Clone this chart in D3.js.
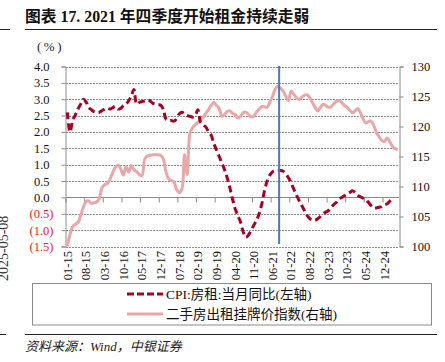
<!DOCTYPE html>
<html>
<head>
<meta charset="utf-8">
<script src="https://cdn.jsdelivr.net/npm/d3@7"></script>
<style>
body { margin: 0; background: #fff; }
svg { display: block; }
</style>
</head>
<body>
<svg id="chart" width="445" height="362"></svg>
<script>
// monthly categories 2015-01 .. 2025-05
var months = d3.timeMonth.range(new Date(2015, 0, 1), new Date(2025, 5, 1)).map(d3.timeFormat("%m-%y"))

// CPI: 房租: 当月同比 (left axis, %), 2015-01 .. 2025-03
var cpiRent = [
	2.6, 2.0, 2.35, 2.52, 2.7, 2.85, 3.0, 2.92, 2.75, 2.68, 2.62, 2.6,
	2.6, 2.65, 2.7, 2.73, 2.7, 2.74, 2.78, 2.7, 2.72, 2.8, 2.85, 2.95,
	3.1, 3.3, 2.85, 2.9, 2.93, 2.95, 2.98, 2.95, 2.88, 2.85, 2.83, 2.82,
	2.7, 2.4, 2.35, 2.35, 2.33, 2.4, 2.55, 2.6, 2.55, 2.5, 2.48, 2.45,
	2.5, 2.68, 2.3, 2.22, 2.15, 2.0, 1.9, 1.65, 1.45, 1.25, 1.05, 0.85,
	0.6, 0.3, -0.05, -0.35, -0.55, -0.75, -1.05, -1.22, -1.15, -1.0, -0.85, -0.7,
	-0.5, -0.2, 0.2, 0.5, 0.68, 0.78, 0.82, 0.82, 0.82, 0.8, 0.72, 0.6,
	0.45, 0.25, 0.08, -0.1, -0.25, -0.4, -0.55, -0.65, -0.7, -0.7, -0.65, -0.58,
	-0.5, -0.45, -0.4, -0.3, -0.22, -0.15, -0.05, 0.0, 0.05, 0.1, 0.15, 0.2,
	0.15, 0.06, 0.02, -0.02, -0.06, -0.15, -0.25, -0.32, -0.32, -0.3, -0.28, -0.22,
	-0.2, -0.12, -0.05
]

// 二手房出租挂牌价指数 (right axis), 2015-01 .. 2025-05
var rentIndex = [
	100.0, 102.0, 103.3, 103.7, 104.0, 105.2, 106.5, 107.5, 107.6, 107.2, 107.3, 107.4,
	108.0, 109.8, 110.3, 110.5, 111.2, 112.3, 113.2, 113.6, 113.0, 111.9, 113.3, 112.4,
	113.5, 112.8, 112.5, 112.0, 111.8, 114.5, 115.1, 115.2, 115.3, 115.3, 115.3, 115.2,
	114.6, 112.5, 111.3, 111.0, 110.8, 109.5, 109.0, 109.6, 115.3, 112.0, 118.8, 119.8,
	120.3, 120.7, 121.1, 121.5, 122.2, 122.8, 123.5, 124.0, 123.5, 123.0, 121.7, 122.0,
	122.5, 122.6, 122.2, 122.0, 121.4, 121.7, 122.3, 122.4, 122.0, 121.6, 121.7, 122.4,
	122.9, 123.3, 123.3, 123.2, 124.0, 125.0, 126.2, 126.7, 126.4, 125.9, 125.0, 124.3,
	125.9, 125.4, 124.8, 124.5, 124.9, 125.2, 125.3, 124.8, 124.0, 123.2, 122.6, 123.2,
	123.7, 123.5, 123.2, 123.3, 123.8, 124.2, 124.3, 124.0, 123.5, 123.2, 122.7, 122.3,
	122.6, 123.0, 122.3, 121.3, 120.6, 120.8, 120.9, 120.2, 119.0, 118.3, 117.7, 117.5,
	118.1, 117.5, 116.7, 116.3, 116.2
]

var leftTicks = [-1.5, -1.0, -0.5, 0.0, 0.5, 1.0, 1.5, 2.0, 2.5, 3.0, 3.5, 4.0]
var rightTicks = [100, 105, 110, 115, 120, 125, 130]
var labelEvery = 7
var markMonth = "09-21"   // vertical marker drawn at the start of this month

var svg = d3.select("#chart")
var serif = "'Liberation Serif', 'Times New Roman', 'Noto Sans CJK SC', serif"

var plotLeft = 66, plotRight = 399, plotTop = 66.5, plotBottom = 246.5

var x = d3.scaleLinear().domain([-0.5, months.length - 0.5]).range([plotLeft, plotRight])
var yL = d3.scaleLinear().domain([-1.5, 4]).range([plotBottom, plotTop])
var yR = d3.scaleLinear().domain([100, 130]).range([plotBottom, plotTop])

// title
svg.append("text")
	.attr("x", 25).attr("y", 22)
	.attr("font-family", serif)
	.attr("font-size", "15.8px")
	.attr("font-weight", "bold")
	.attr("fill", "#111")
	.text("图表 17. 2021 年四季度开始租金持续走弱")

svg.append("line").attr("x1", 25).attr("x2", 437).attr("y1", 29.5).attr("y2", 29.5)
	.attr("stroke", "#222").attr("stroke-width", 1)
svg.append("line").attr("x1", 0).attr("x2", 10).attr("y1", 29.5).attr("y2", 29.5)
	.attr("stroke", "#222").attr("stroke-width", 1)

// neighbouring page fragment
svg.append("text")
	.attr("transform", "translate(8,281) rotate(-90)")
	.attr("font-family", serif).attr("font-size", "14px").attr("fill", "#333")
	.text("2025-05-08")

svg.append("text")
	.attr("x", 37).attr("y", 51)
	.attr("font-family", serif).attr("font-size", "13px")
	.attr("letter-spacing", "2.5px")
	.attr("fill", "#222")
	.text("(%)")

// gridlines
svg.append("g").selectAll("line")
	.data(leftTicks.filter(function(d) { return d !== 0 }))
	.enter().append("line")
	.attr("x1", plotLeft).attr("x2", plotRight)
	.attr("y1", function(d) { return Math.round(yL(d)) + 0.5 })
	.attr("y2", function(d) { return Math.round(yL(d)) + 0.5 })
	.attr("stroke", "#8c8c8c").attr("stroke-width", 1)
	.attr("stroke-dasharray", "2,1")

// zero line with category ticks
var y0 = Math.round(yL(0)) + 0.5
svg.append("line").attr("x1", plotLeft).attr("x2", plotRight).attr("y1", y0).attr("y2", y0)
	.attr("stroke", "#8a8a8a").attr("stroke-width", 1)
var tickIdx = d3.range(0, months.length, labelEvery)
svg.append("g").selectAll("line")
	.data(tickIdx)
	.enter().append("line")
	.attr("x1", function(i) { return x(i - 0.5) }).attr("x2", function(i) { return x(i - 0.5) })
	.attr("y1", y0).attr("y2", y0 + 5)
	.attr("stroke", "#8a8a8a")

// left axis
var axL = svg.append("g")
	.attr("transform", "translate(" + (plotLeft - 0.5) + ",0)")
	.call(d3.axisLeft(yL).tickValues(leftTicks).tickSize(4).tickPadding(8)
		.tickFormat(function(d) { return d < 0 ? "(" + d3.format(".1f")(-d) + ")" : d3.format(".1f")(d) }))
axL.select(".domain").attr("stroke", "#8a8a8a")
axL.selectAll(".tick line").attr("stroke", "#8a8a8a")
axL.selectAll(".tick text")
	.attr("font-family", serif).attr("font-size", "12.5px")
	.attr("fill", function(d) { return d < 0 ? "#ee1c25" : "#111" })
	.attr("dx", function(d) { return d < 0 ? 0 : -4 })

// right axis
var axR = svg.append("g")
	.attr("transform", "translate(" + (plotRight + 0.5) + ",0)")
	.call(d3.axisRight(yR).tickValues(rightTicks).tickSize(4).tickPadding(8))
axR.select(".domain").attr("stroke", "#8a8a8a")
axR.selectAll(".tick line").attr("stroke", "#8a8a8a")
axR.selectAll(".tick text").attr("font-family", serif).attr("font-size", "12.5px").attr("fill", "#111")

// x labels (rotated)
svg.append("g").selectAll("text")
	.data(tickIdx)
	.enter().append("text")
	.attr("transform", function(i) { return "translate(" + x(i) + ",251) rotate(-90)" })
	.attr("text-anchor", "end")
	.attr("dy", "0.35em")
	.attr("font-family", serif).attr("font-size", "12.5px").attr("fill", "#111")
	.text(function(i) { return months[i] })

// lines
var rentLine = d3.line()
	.x(function(d, i) { return x(i) })
	.y(function(d) { return yR(d) })
	.curve(d3.curveCatmullRom)
svg.append("path").datum(rentIndex)
	.attr("d", rentLine)
	.attr("fill", "none").attr("stroke", "#eaa7a7").attr("stroke-width", 3)

var cpiLine = d3.line()
	.x(function(d, i) { return x(i) })
	.y(function(d) { return yL(d) })
	.curve(d3.curveCatmullRom)
svg.append("path").datum(cpiRent)
	.attr("d", cpiLine)
	.attr("fill", "none").attr("stroke", "#a8001f").attr("stroke-width", 3)
	.attr("stroke-dasharray", "7,4")

// marker line
var mx = x(months.indexOf(markMonth) - 0.5)
svg.append("line").attr("x1", mx).attr("x2", mx).attr("y1", 66).attr("y2", 244)
	.attr("stroke", "#4a78c8").attr("stroke-width", 2)

// legend
svg.append("rect").attr("x", 32.5).attr("y", 283.5).attr("width", 399).attr("height", 41.5)
	.attr("fill", "none").attr("stroke", "#8a8a8a")

var legend = [
	{ name: "CPI:房租:当月同比(左轴)", color: "#a8001f", dash: "7,3" },
	{ name: "二手房出租挂牌价指数(右轴)", color: "#eaa7a7", dash: null }
]
var lg = svg.append("g").selectAll("g").data(legend).enter().append("g")
	.attr("transform", function(d, i) { return "translate(0," + (294 + i * 20) + ")" })
lg.append("line").attr("x1", 127).attr("x2", 163)
	.attr("stroke", function(d) { return d.color }).attr("stroke-width", 3)
	.attr("stroke-dasharray", function(d) { return d.dash })
lg.append("text").attr("x", 166).attr("y", 4.5)
	.attr("font-family", serif).attr("font-size", "13.5px").attr("fill", "#111")
	.text(function(d) { return d.name })

// footer
svg.append("line").attr("x1", 25).attr("x2", 437).attr("y1", 334.5).attr("y2", 334.5)
	.attr("stroke", "#222")
svg.append("line").attr("x1", 0).attr("x2", 6).attr("y1", 334.5).attr("y2", 334.5)
	.attr("stroke", "#222")
svg.append("text").attr("x", 25).attr("y", 351)
	.attr("font-family", serif).attr("font-size", "13px").attr("font-style", "italic")
	.attr("fill", "#222")
	.text("资料来源：Wind，中银证券")
</script>
</body>
</html>
